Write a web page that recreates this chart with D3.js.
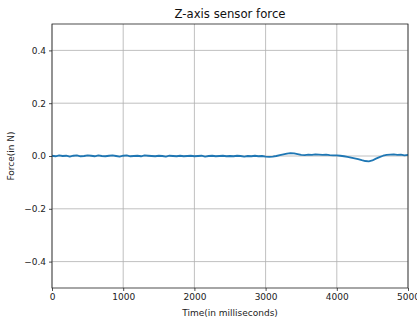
<!DOCTYPE html>
<html>
<head>
<meta charset="utf-8">
<script src="https://cdn.jsdelivr.net/npm/d3@7"></script>
<style>
  html, body { margin: 0; padding: 0; background: #fff; }
  svg { display: block; font-family: "DejaVu Sans", sans-serif; }
</style>
</head>
<body>
<svg id="chart" width="417" height="320"></svg>
<script>
// Sample times (ms) of the Z-axis force sensor
const timeMs = [
  0, 50, 100, 150, 200, 250, 300, 350, 400, 450,
  500, 550, 600, 650, 700, 750, 800, 850, 900, 950,
  1000, 1050, 1100, 1150, 1200, 1250, 1300, 1350, 1400, 1450,
  1500, 1550, 1600, 1650, 1700, 1750, 1800, 1850, 1900, 1950,
  2000, 2050, 2100, 2150, 2200, 2250, 2300, 2350, 2400, 2450,
  2500, 2550, 2600, 2650, 2700, 2750, 2800, 2850, 2900, 2950,
  3000, 3050, 3100, 3150, 3200, 3250, 3300, 3350, 3400, 3450,
  3500, 3550, 3600, 3650, 3700, 3750, 3800, 3850, 3900, 3950,
  4000, 4050, 4100, 4150, 4200, 4250, 4300, 4350, 4400, 4450,
  4500, 4550, 4600, 4650, 4700, 4750, 4800, 4850, 4900, 4950,
  5000
];

// Measured force (N)
const forceN = [
  0.001, -0.001, 0.002, 0.000, 0.001, -0.002, 0.001, 0.002, -0.001, 0.000,
  0.002, 0.001, -0.001, 0.002, 0.000, -0.001, 0.001, 0.002, 0.000, -0.002,
  0.001, 0.002, -0.001, 0.000, 0.001, -0.001, 0.002, 0.001, 0.000, -0.001,
  0.001, 0.000, -0.002, 0.001, 0.000, -0.001, 0.001, -0.001, 0.000, 0.001,
  -0.001, 0.000, 0.001, -0.002, 0.000, 0.001, -0.001, 0.000, 0.001, -0.001,
  0.000, -0.001, 0.001, 0.000, -0.002, 0.000, -0.001, 0.001, -0.001, 0.000,
  -0.002, -0.003, -0.002, 0.000, 0.003, 0.006, 0.009, 0.011, 0.010, 0.007,
  0.004, 0.003, 0.005, 0.004, 0.006, 0.005, 0.004, 0.005, 0.003, 0.002,
  0.002, 0.001, -0.001, -0.003, -0.006, -0.009, -0.012, -0.016, -0.019, -0.020,
  -0.017, -0.010, -0.004, 0.001, 0.004, 0.005, 0.006, 0.004, 0.005, 0.002,
  0.004
];

const xTicks = [0, 1000, 2000, 3000, 4000, 5000];
const yTicks = [-0.4, -0.2, 0.0, 0.2, 0.4];

const svg = d3.select("#chart");
const margin = { left: 52, right: 9, top: 24, bottom: 32 };
const W = 417, H = 320;
const x0 = margin.left, x1 = W - margin.right;
const y0 = H - margin.bottom, y1 = margin.top;

const x = d3.scaleLinear().domain([0, 5000]).range([x0, x1]);
const y = d3.scaleLinear().domain([-0.5, 0.5]).range([y0, y1]);

// Grid lines
const grid = svg.append("g").attr("stroke", "#b0b0b0").attr("stroke-width", 0.8);
grid.selectAll(".gx").data(xTicks).join("line")
  .attr("x1", d => x(d)).attr("x2", d => x(d))
  .attr("y1", y0).attr("y2", y1);
grid.selectAll(".gy").data(yTicks).join("line")
  .attr("x1", x0).attr("x2", x1)
  .attr("y1", d => y(d)).attr("y2", d => y(d));

// Force trace
const series = timeMs.map((t, i) => [t, forceN[i]]);
svg.append("path")
  .datum(series)
  .attr("fill", "none")
  .attr("stroke", "#1f77b4")
  .attr("stroke-width", 1.8)
  .attr("stroke-linejoin", "round")
  .attr("d", d3.line().x(d => x(d[0])).y(d => y(d[1])));

// Axes
const fmtY = d => d3.format(".1f")(d).replace("-", "\u2212");
const xAxis = svg.append("g").attr("transform", `translate(0,${y0})`)
  .call(d3.axisBottom(x).tickValues(xTicks).tickFormat(d3.format("d")).tickSize(3).tickPadding(3));
const yAxis = svg.append("g").attr("transform", `translate(${x0},0)`)
  .call(d3.axisLeft(y).tickValues(yTicks).tickFormat(fmtY).tickSize(3).tickPadding(3));
[xAxis, yAxis].forEach(g => {
  g.select(".domain").remove();
  g.selectAll("line").attr("stroke", "#222").attr("stroke-width", 0.8);
  g.selectAll("text").attr("font-family", "DejaVu Sans").attr("font-size", 9).attr("fill", "#222");
});

// Frame
svg.append("rect")
  .attr("x", x0).attr("y", y1)
  .attr("width", x1 - x0).attr("height", y0 - y1)
  .attr("fill", "none").attr("stroke", "#222").attr("stroke-width", 0.8);

// Title and labels
svg.append("text")
  .attr("x", (x0 + x1) / 2).attr("y", 18)
  .attr("text-anchor", "middle").attr("font-size", 11.7).attr("fill", "#111")
  .text("Z-axis sensor force");
svg.append("text")
  .attr("x", (x0 + x1) / 2).attr("y", 316)
  .attr("text-anchor", "middle").attr("font-size", 9).attr("fill", "#222")
  .text("Time(in milliseconds)");
svg.append("text")
  .attr("transform", `translate(14,${(y0 + y1) / 2}) rotate(-90)`)
  .attr("text-anchor", "middle").attr("font-size", 9).attr("fill", "#222")
  .text("Force(in N)");
</script>
</body>
</html>
